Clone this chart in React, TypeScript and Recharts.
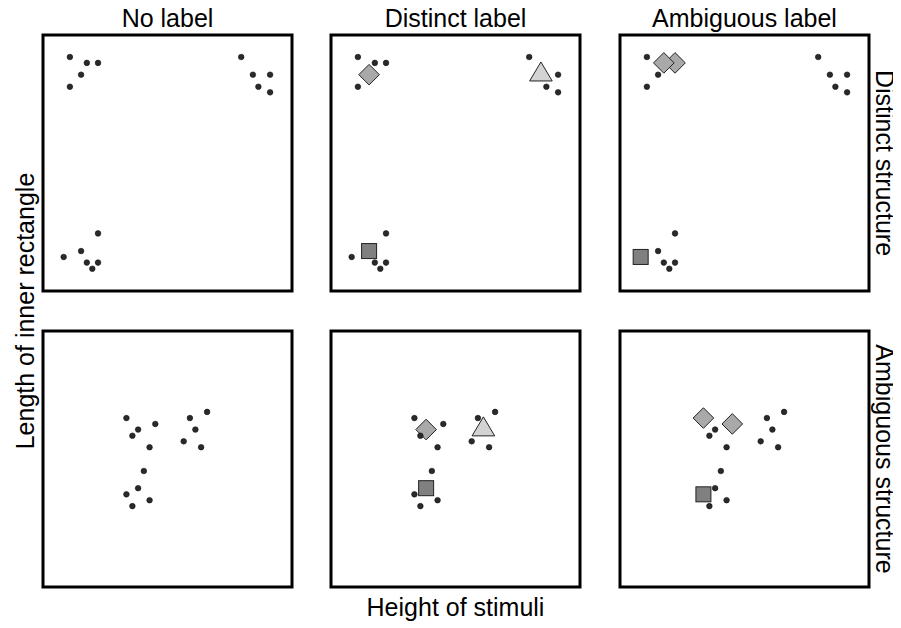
import React from 'react';
import { ScatterChart, Scatter, XAxis, YAxis, ReferenceArea } from 'recharts';

// stimulus points for each structure, in % of the panel
const distinctStructure = [
    { x: 10.8, y: 91.4 }, { x: 17.6, y: 89.1 }, { x: 22.1, y: 89.1 }, { x: 15.3, y: 84.5 }, { x: 10.8, y: 79.8 },
    { x: 79.6, y: 91.4 }, { x: 84.3, y: 84.5 }, { x: 91.2, y: 84.5 }, { x: 86.5, y: 79.8 }, { x: 91.2, y: 77.6 },
    { x: 22.1, y: 22.5 }, { x: 15.3, y: 15.6 }, { x: 8.3, y: 13.3 }, { x: 17.6, y: 11.1 }, { x: 22.1, y: 11.1 }, { x: 19.8, y: 8.7 },
];

const ambiguousStructure = [
    { x: 33.5, y: 66.0 }, { x: 45.1, y: 63.7 }, { x: 38.2, y: 61.5 }, { x: 35.9, y: 59.1 }, { x: 42.8, y: 54.6 },
    { x: 65.9, y: 68.4 }, { x: 59.0, y: 66.0 }, { x: 61.2, y: 61.5 }, { x: 56.5, y: 56.9 }, { x: 63.5, y: 54.6 },
    { x: 40.5, y: 45.3 }, { x: 38.2, y: 38.6 }, { x: 33.5, y: 36.2 }, { x: 42.8, y: 33.9 }, { x: 35.9, y: 31.6 },
];

const columnTitles = ['No label', 'Distinct label', 'Ambiguous label'];
const rowTitles = ['Distinct structure', 'Ambiguous structure'];

// labelled points (indices into the structure arrays); [row][col]
type Labels = { diamond: number[], triangle: number[], square: number[] };
const noLabels: Labels = { diamond: [], triangle: [], square: [] };
const labelSets: Labels[][] = [
    [noLabels, { diamond: [3], triangle: [6], square: [11] }, { diamond: [2, 1], triangle: [], square: [12] }],
    [noLabels, { diamond: [2], triangle: [7], square: [11] }, { diamond: [0, 1], triangle: [], square: [12] }],
];
const structures = [distinctStructure, ambiguousStructure];

const PANEL_LEFT = [43, 331, 620];
const PANEL_TOP = [35, 331];
const PANEL_W = 249;
const PANEL_H = 256;
const M = 6;
const FONT = '"Liberation Sans", Arial, Helvetica, sans-serif';

const DotShape = (p: any) => (
    <circle cx={p.cx} cy={p.cy} r={2.8} fill="#2a2a2a" stroke="#111" strokeWidth={0.6} />
);

const DiamondShape = (p: any) => {
    const r = 10.3;
    return (
        <polygon
            points={`${p.cx},${p.cy - r} ${p.cx + r},${p.cy} ${p.cx},${p.cy + r} ${p.cx - r},${p.cy}`}
            fill="#a9a9a9" stroke="#222" strokeWidth={1} />
    );
};

const SquareShape = (p: any) => (
    <rect x={p.cx - 7.5} y={p.cy - 7.5} width={15} height={15} fill="#808080" stroke="#222" strokeWidth={1} />
);

const TriangleShape = (p: any) => {
    const w = 11.3;
    return (
        <polygon
            points={`${p.cx},${p.cy - 12.7} ${p.cx + w},${p.cy + 6.3} ${p.cx - w},${p.cy + 6.3}`}
            fill="#d3d3d3" stroke="#222" strokeWidth={1} />
    );
};

const Panel = ({ row, col }: { row: number, col: number }) => {
    const pts = structures[row];
    const labels = labelSets[row][col];
    const pick = (idx: number[]) => idx.map(i => pts[i]);
    const used = [...labels.diamond, ...labels.triangle, ...labels.square];
    const dots = pts.filter((_, i) => !used.includes(i));

    return (
        <div style={{ position: 'absolute', left: PANEL_LEFT[col] - M, top: PANEL_TOP[row] - M }}>
            <ScatterChart width={PANEL_W + 2 * M} height={PANEL_H + 2 * M} margin={{ top: M, right: M, bottom: M, left: M }}>
                <XAxis type="number" dataKey="x" domain={[0, 100]} hide />
                <YAxis type="number" dataKey="y" domain={[0, 100]} hide />
                <ReferenceArea x1={0} x2={100} y1={0} y2={100} fill="none" stroke="#000" strokeWidth={3} ifOverflow="visible" />
                <Scatter data={pick(labels.square)} shape={SquareShape} isAnimationActive={false} />
                <Scatter data={pick(labels.triangle)} shape={TriangleShape} isAnimationActive={false} />
                <Scatter data={pick(labels.diamond)} shape={DiamondShape} isAnimationActive={false} />
                <Scatter data={dots} shape={DotShape} isAnimationActive={false} />
            </ScatterChart>
        </div>
    );
};

export default function App() {
    const midY = (PANEL_TOP[0] + PANEL_TOP[1] + PANEL_H) / 2;
    return (
        <div style={{ position: 'relative', width: 901, height: 628, margin: '-8px 0 0 -8px', background: '#fff' }}>
            {[0, 1].map(r => [0, 1, 2].map(c => <Panel key={`${r}-${c}`} row={r} col={c} />))}

            {/* titles */}
            <svg width={901} height={628} style={{ position: 'absolute', left: 0, top: 0, pointerEvents: 'none' }}>
                <g fontFamily={FONT} fontSize={25} fill="#000" textAnchor="middle">
                    {columnTitles.map((t, c) => (
                        <text key={t} x={PANEL_LEFT[c] + PANEL_W / 2} y={26.5}>{t}</text>
                    ))}
                    {rowTitles.map((t, r) => (
                        <text key={t} transform={`translate(876, ${PANEL_TOP[r] + PANEL_H / 2}) rotate(90)`}>{t}</text>
                    ))}
                    <text x={PANEL_LEFT[1] + PANEL_W / 2} y={616}>Height of stimuli</text>
                    <text transform={`translate(34, ${midY}) rotate(-90)`}>Length of inner rectangle</text>
                </g>
            </svg>
        </div>
    );
}
